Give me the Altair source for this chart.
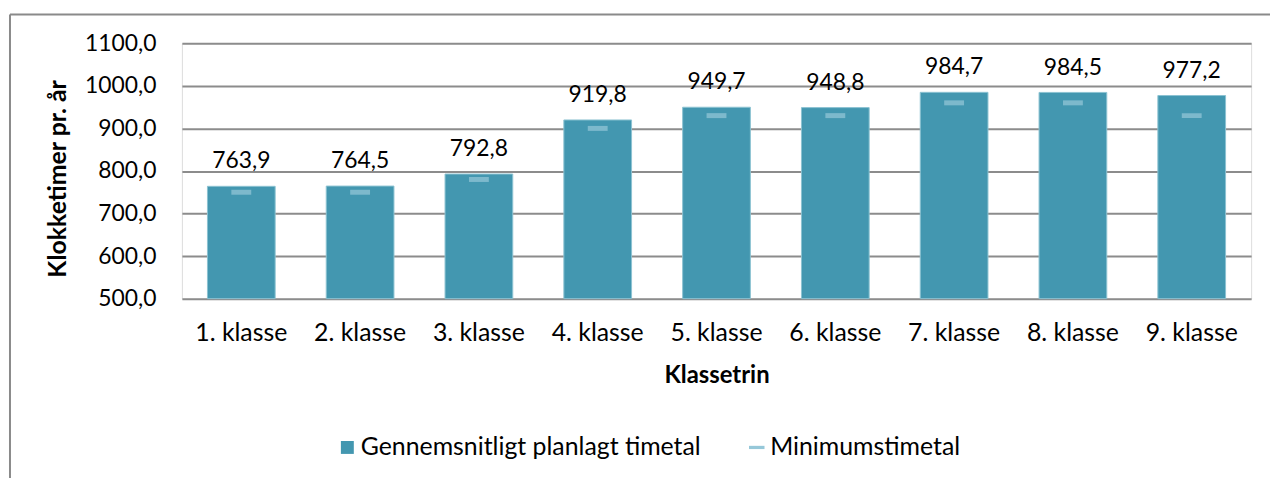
import altair as alt
import pandas as pd

classes = ["1. klasse", "2. klasse", "3. klasse", "4. klasse", "5. klasse",
           "6. klasse", "7. klasse", "8. klasse", "9. klasse"]
planned = [763.9, 764.5, 792.8, 919.8, 949.7, 948.8, 984.7, 984.5, 977.2]
minimum = [750, 750, 780, 900, 930, 930, 960, 960, 930]
series = ["Gennemsnitligt planlagt timetal", "Minimumstimetal"]
y_ticks = [500, 600, 700, 800, 900, 1000, 1100]

BAR = "#4397B0"
MINC = "#96C8D9"
GRID = "#8C8C8C"
FONT = "Lato"

df = pd.DataFrame({"klasse": classes, "planned": planned, "minimum": minimum})
leg = pd.DataFrame({"serie": series})
frame = pd.DataFrame({"a": [0]})

W, H = 1076, 257

x = alt.X("klasse:N", sort=classes, title="Klassetrin",
          scale=alt.Scale(paddingInner=0.43, paddingOuter=0.215),
          axis=alt.Axis(labelAngle=0, labelFontSize=25, labelFont=FONT, labelColor="black",
                        labelPadding=22, ticks=False, domain=False,
                        titleFont=FONT, titleFontSize=24, titleFontWeight="bold",
                        titleColor="black", titlePadding=18))
y = alt.Y("planned:Q", title="Klokketimer pr. år",
          scale=alt.Scale(domain=[500, 1100], zero=False, nice=False),
          axis=alt.Axis(values=y_ticks, labelExpr="replace(format(datum.value, '.1f'), '.', ',')",
                        labelFontSize=23, labelFont=FONT, labelColor="black", labelPadding=26,
                        ticks=False, domain=False, grid=True, gridColor=GRID, gridWidth=2,
                        titleFont=FONT, titleFontSize=25, titleFontWeight="bold", titleColor="black",
                        titleX=-125, titleY=136, titleAlign="center", titleBaseline="middle",
                        titleAngle=270))

base = alt.Chart(df)

bars = base.mark_bar(color=BAR, stroke="#8CC3D2", strokeWidth=1).encode(
    x=x, y=y, y2=alt.datum(500))

ticks = base.mark_tick(color=MINC, size=20, thickness=5).encode(
    x=alt.X("klasse:N", sort=classes),
    y=alt.Y("minimum:Q"))

labels = base.transform_calculate(
    lab="replace(format(datum.planned, '.1f'), '.', ',')"
).mark_text(font=FONT, fontSize=23, color="black", baseline="alphabetic", dy=-18).encode(
    x=alt.X("klasse:N", sort=classes),
    y=alt.Y("planned:Q"),
    text="lab:N")

legend_def = alt.Legend(title=None, orient="none", legendX=154, legendY=394,
                        direction="horizontal", labelFont=FONT, labelFontSize=25,
                        labelColor="black", symbolOpacity=1, symbolSize=169,
                        symbolStrokeWidth=0, labelOffset=1, columnPadding=43,
                        padding=0, labelLimit=0)

legend_pts = alt.Chart(leg).mark_point(filled=True, opacity=0, size=169).encode(
    color=alt.Color("serie:N",
                    scale=alt.Scale(domain=series, range=[BAR, MINC]),
                    legend=legend_def),
    shape=alt.Shape("serie:N",
                    scale=alt.Scale(domain=series,
                                    range=["square", "M-1.2,-0.25H1.2V0.25H-1.2Z"]),
                    legend=legend_def),
)

frame_left = alt.Chart(frame).mark_rule(color="#8A8A8A", strokeWidth=2).encode(
    x=alt.value(-173), y=alt.value(-29), y2=alt.value(480))
frame_top = alt.Chart(frame).mark_rule(color="#8A8A8A", strokeWidth=2).encode(
    x=alt.value(-173), x2=alt.value(1100), y=alt.value(-29))

chart = alt.layer(frame_left, frame_top, bars, ticks, labels, legend_pts).properties(
    width=W, height=H,
    autosize=alt.AutoSizeParams(type="none"),
    padding={"left": 175, "top": 34, "right": 19, "bottom": 179},
).configure_view(stroke=None).configure(background="white")

chart.save("out.html", embed_options={"renderer": "svg", "actions": False})
